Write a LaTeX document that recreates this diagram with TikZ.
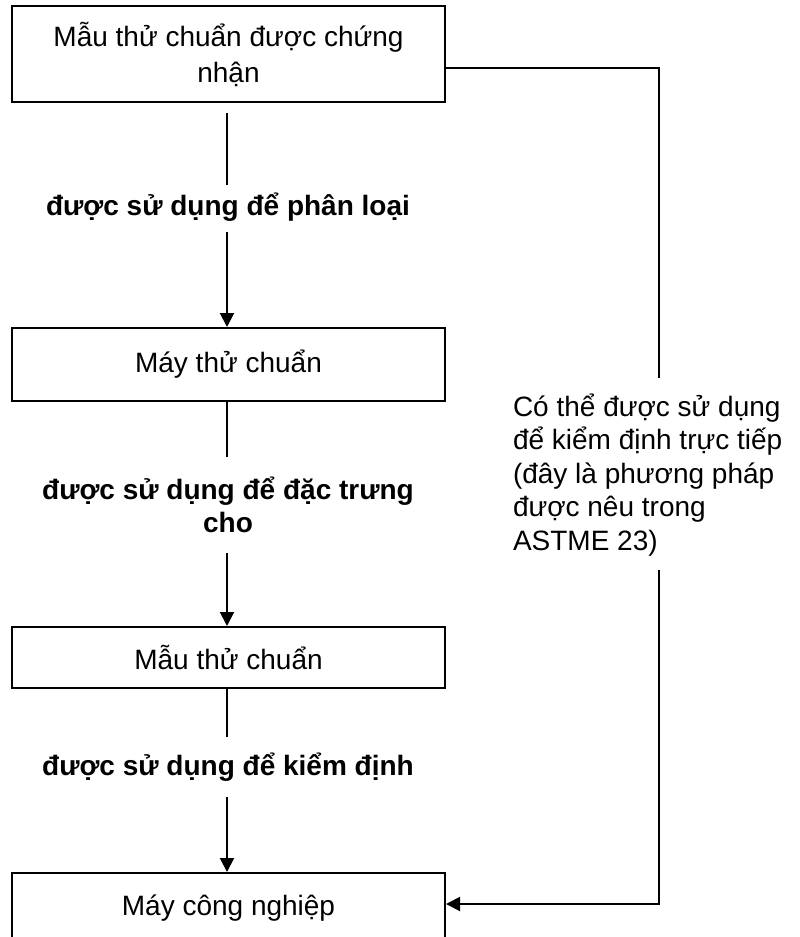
\documentclass[tikz,border=0pt]{standalone}
\usepackage{fontspec}
\setmainfont{Liberation Sans}
\usetikzlibrary{arrows.meta}
\begin{document}
\begin{tikzpicture}[x=1pt,y=-1pt,
  line width=2pt,
  boxnode/.style={draw=black, line width=2pt, minimum width=433pt, inner sep=0pt, align=center,
    font=\fontsize{28}{36}\selectfont},
  lblnode/.style={inner sep=0pt, align=center, font=\fontsize{28}{33.5}\selectfont\bfseries},
  sidenote/.style={inner sep=0pt, align=left, font=\fontsize{28}{33.5}\selectfont},
  tip/.style={-{Triangle[length=14pt,width=14pt]}}]
\useasboundingbox (0,0) rectangle (800,937);
\clip (0,0) rectangle (800,937);
\fill[white] (0,0) rectangle (800,937);

\node[boxnode, minimum height=96pt] (b1) at (228.5,54) {Mẫu thử chuẩn được chứng\\nhận};
\node[boxnode, minimum height=73pt] (b2) at (228.5,364.5) {Máy thử chuẩn};
\node[boxnode, minimum height=61pt] (b3) at (228.5,657.5) {Mẫu thử chuẩn};
\node[boxnode, minimum height=70pt] (b4) at (228.5,908) {Máy công nghiệp};

\node[lblnode] (l1) at (228,207) {được sử dụng để phân loại};
\node[lblnode] (l2) at (228,505) {được sử dụng để đặc trưng\\cho};
\node[lblnode] (l3) at (228,767) {được sử dụng để kiểm định};

\node[sidenote, anchor=west] (r) at (512,475) {Có thể được sử dụng\\để kiểm định trực tiếp\\(đây là phương pháp\\được nêu trong\\ASTME 23)};

\coordinate (e1) at (227,185);
\coordinate (s1) at (227,232);
\coordinate (e2) at (227,457);
\coordinate (s2) at (227,553);
\coordinate (e3) at (227,737);
\coordinate (s3) at (227,797);

\draw (b1.south -| e1) ++(0,10) -- (e1);
\draw[tip] (s1) -- (s1 |- b2.north);
\draw (b2.south -| e2) -- (e2);
\draw[tip] (s2) -- (s2 |- b3.north);
\draw (b3.south -| e3) -- (e3);
\draw[tip] (s3) -- (s3 |- b4.north);

\coordinate (k1) at (659,68);
\coordinate (k2) at (659,378);
\coordinate (k3) at (659,570);
\coordinate (k4) at (659,904);
\draw (b1.east |- k1) -- (k1) -- (k2);
\draw[tip] (k3) -- (k4) -- (b4.east |- k4);
\end{tikzpicture}
\end{document}
